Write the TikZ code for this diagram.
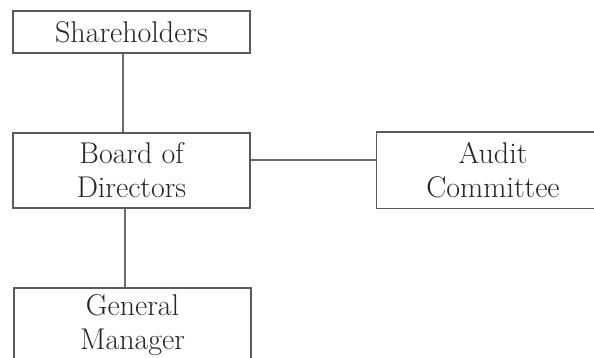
\documentclass[tikz,border=0pt]{standalone}
\usepackage{fontspec}
\definecolor{boxgray}{HTML}{5A5A5A}
\definecolor{linegray}{HTML}{6A6A6A}
\definecolor{textgray}{HTML}{262626}
\begin{document}
\begin{tikzpicture}[x=1pt,y=-1pt,
  box/.style={draw=boxgray, line width=1.5pt, minimum width=237pt, inner sep=0pt,
    align=center, font=\fontsize{30}{34}\selectfont, text=textgray},
  openbox/.style={box, draw=none},
  boxline/.style={draw=boxgray, line width=1.5pt},
  conn/.style={draw=linegray, line width=1.5pt}]
\useasboundingbox[fill=white] (0,0) rectangle (594,358);
\clip (0,0) rectangle (594,358);
\node[box, minimum height=42pt] (sh) at (131.5,32) {Shareholders};
\node[box, minimum height=75pt] (bd) at (131.5,170.5) {Board of\\Directors};
\node[openbox, minimum width=232pt, minimum height=75pt] (ac) at (493,170.5) {Audit\\Committee};
\draw[boxline] ([xshift=60pt]ac.north east) -- (ac.north west) -- (ac.south west) -- ([xshift=60pt]ac.south east);
\node[box, minimum height=75pt] (gm) at (132.5,325.5) {General\\Manager};
\draw[conn] ([xshift=-8.5pt]sh.south) -- ([xshift=-8.5pt]bd.north);
\draw[conn] ([xshift=-6.5pt]bd.south) -- ([xshift=-7.5pt]gm.north);
\draw[conn] ([yshift=10.5pt]bd.east) -- ([yshift=10.5pt]ac.west);
\end{tikzpicture}
\end{document}
